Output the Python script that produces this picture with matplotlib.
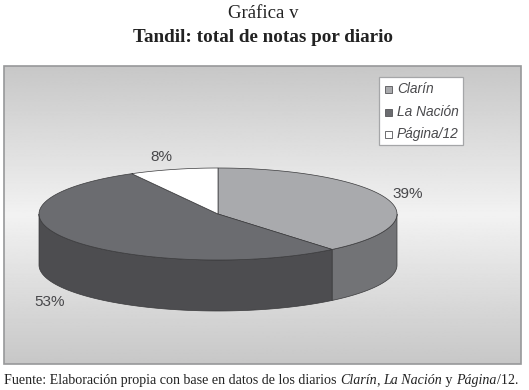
import numpy as np
import matplotlib
matplotlib.use("Agg")
import matplotlib.pyplot as plt
from matplotlib.patches import Rectangle

# data
labels = ["Clarín", "La Nación", "Página/12"]
shares = [39, 53, 8]
pct_labels = ["39%", "53%", "8%"]
top_colors = ["#a9aaad", "#6b6c70", "#ffffff"]
side_colors = ["#727376", "#4d4d50", "#ffffff"]

W, H = 529, 390
cx, cy, rx, ry, depth = 218, 214, 179, 46, 51

fig = plt.figure(figsize=(W / 100, H / 100), dpi=100)
ax = fig.add_axes([0, 0, 1, 1])
ax.axis("off")

# panel with grey gradient
x0, x1, y0, y1 = 4, 521, 66, 364
ax.add_patch(Rectangle((x0, y0), x1 - x0, y1 - y0, fc="none", ec="#97989a", lw=1.2, zorder=3))
grad = np.interp(np.linspace(0, 1, 300), [0, 0.5, 1], [0.78, 0.95, 0.78]).reshape(-1, 1)
ax.imshow(grad, extent=(x0, x1, y1, y0), cmap="gray", vmin=0, vmax=1, aspect="auto", zorder=1)
ax.set_xlim(0, W)
ax.set_ylim(H, 0)


def ell(t):
    return cx + rx * np.sin(t), cy - ry * np.cos(t)


edges = np.cumsum([0] + shares) / 100 * 2 * np.pi

# side wall, only the front half of the ellipse shows
for i in range(len(shares)):
    a = max(edges[i], np.pi / 2)
    b = min(edges[i + 1], 3 * np.pi / 2)
    if b <= a:
        continue
    t = np.linspace(a, b, 120)
    x, y = ell(t)
    xs = np.r_[x, x[::-1]]
    ys = np.r_[y, (y + depth)[::-1]]
    ax.fill(xs, ys, fc=side_colors[i], ec="#3a3a3c", lw=0.5, zorder=4)

# top face
for i in range(len(shares)):
    t = np.linspace(edges[i], edges[i + 1], 120)
    x, y = ell(t)
    ax.fill(np.r_[cx, x], np.r_[cy, y], fc=top_colors[i], ec="#3a3a3c", lw=0.5, zorder=5)

pct_pos = [(408, 194), (50, 302), (161, 157)]
for s, (px, py) in zip(pct_labels, pct_pos):
    ax.text(px, py, s, ha="center", va="center", fontsize=11, family="Liberation Sans", color="#47474a", zorder=6)

# legend
ax.add_patch(Rectangle((379, 77), 84, 68, fc="white", ec="#a5a6a8", lw=0.9, zorder=6))
legend_y = [89, 112, 134]
for i, lab in enumerate(labels):
    ly = legend_y[i]
    ax.add_patch(Rectangle((385, ly - 3), 7, 7, fc=top_colors[i], ec="#555558", lw=0.6, zorder=7))
    ax.text(397, ly, lab, ha="left", va="center", fontsize=9.9, style="italic", family="Liberation Sans", color="#4a4a4d", zorder=7)

# title and source
serif = "Liberation Serif"
ax.text(263, 14, "Gráfica v", ha="center", va="center", fontsize=13.5, family=serif, color="#222222")
ax.text(263, 37, "Tandil: total de notas por diario", ha="center", va="center", fontsize=13.8, weight="bold", family=serif, color="#222222")
src = ax.text(4, 384, "Fuente: Elaboración propia con base en datos de los diarios ", ha="left", va="baseline", fontsize=10.1, family=serif, color="#222222")
fig.canvas.draw()
r = fig.canvas.get_renderer()
pen = src.get_window_extent(r).x1
parts = [("Clarín", "italic"), (", ", "normal"), ("La Nación", "italic"), (" y ", "normal"), ("Página", "italic"), ("/12.", "normal")]
for s, st in parts:
    t = ax.text(pen, H - 384, s, transform=None, ha="left", va="baseline", fontsize=10.1, style=st, family=serif, color="#222222")
    pen = t.get_window_extent(r).x1

fig.savefig("out.png", dpi=100)
